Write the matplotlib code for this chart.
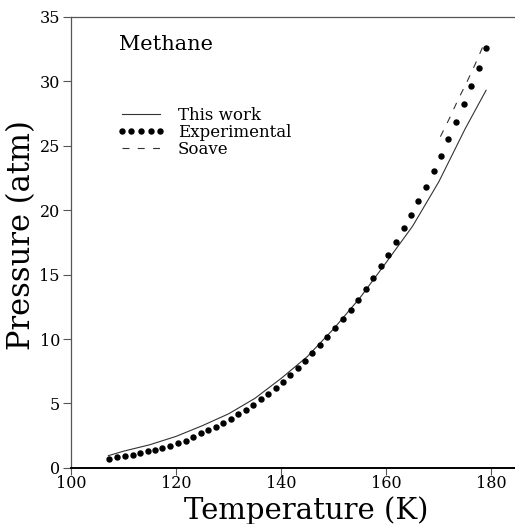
import numpy as np
from matplotlib import pyplot as plt

plt.rcParams['font.family'] = 'DejaVu Serif'
plt.rcParams['lines.scale_dashes'] = False

# experimental vapour pressure points
T_exp = [107.3, 108.7, 110.3, 111.7, 113.1, 114.6, 116.0, 117.4, 118.8, 120.3,
         121.8, 123.2, 124.7, 126.1, 127.6, 128.9, 130.4, 131.8, 133.3, 134.6,
         136.1, 137.5, 139.0, 140.3, 141.6, 143.1, 144.5, 145.9, 147.4, 148.8,
         150.3, 151.7, 153.2, 154.6, 156.1, 157.5, 158.9, 160.3, 161.8, 163.3,
         164.7, 166.1, 167.6, 169.0, 170.4, 171.8, 173.3, 174.7, 176.1, 177.6,
         179.0]
P_exp = [0.70, 0.83, 0.95, 1.03, 1.14, 1.30, 1.40, 1.53, 1.71, 1.92,
         2.09, 2.37, 2.69, 2.95, 3.20, 3.51, 3.80, 4.17, 4.52, 4.91,
         5.33, 5.74, 6.21, 6.70, 7.21, 7.73, 8.32, 8.90, 9.53, 10.14,
         10.84, 11.55, 12.28, 13.05, 13.89, 14.77, 15.65, 16.55, 17.53, 18.6,
         19.6, 20.7, 21.8, 23.0, 24.2, 25.5, 26.8, 28.2, 29.6, 31.0,
         32.6]

# this work
T_model = [107.1, 110, 115, 120, 125, 130, 135, 140, 145, 150, 155, 160, 165, 170, 175, 179.0]
P_model = [0.95, 1.30, 1.80, 2.45, 3.28, 4.20, 5.40, 6.95, 8.65, 10.80, 13.20, 15.95,
           18.75, 22.2, 26.3, 29.3]

# Soave
T_soave = [170.3, 172.0, 173.7, 175.3, 176.9, 178.5]
P_soave = [25.7, 27.1, 28.6, 29.9, 31.3, 32.8]

fig = plt.figure(figsize=(5.15, 5.24), dpi=100)
ax = fig.add_axes([0.138, 0.107, 0.862, 0.861])

ax.plot(T_model, P_model, color='#333333', lw=0.8, label='This work')
ax.plot(T_exp, P_exp, 'o', color='black', ms=3.6, label='Experimental')
ax.plot(T_soave, P_soave, color='#333333', lw=0.8, dashes=(5, 6), label='Soave')

ax.set_xlim(100, 184.5)
ax.set_ylim(0, 35)
ax.set_xticks([100, 120, 140, 160, 180])
ax.set_yticks([0, 5, 10, 15, 20, 25, 30, 35])

ax.spines['right'].set_visible(False)
ax.spines['top'].set_color('#555555')
ax.spines['top'].set_linewidth(0.9)
ax.spines['left'].set_color('#555555')
ax.spines['left'].set_linewidth(0.9)
ax.spines['bottom'].set_linewidth(1.4)
ax.tick_params(direction='out', length=6, width=0.8, color='#555555',
               labelsize=11.5, pad=2)
ax.tick_params(axis='x', length=5, pad=0)

ax.set_xlabel('Temperature (K)', fontsize=21)
ax.set_ylabel('Pressure (atm)', fontsize=22)
ax.xaxis.set_label_coords(0.53, -0.063)
ax.yaxis.set_label_coords(-0.077, 0.517)

ax.text(0.108, 0.938, 'Methane', transform=ax.transAxes,
        fontsize=15, ha='left', va='center')

ax.legend(loc='upper left', bbox_to_anchor=(0.103, 0.80), frameon=False,
          fontsize=12, numpoints=5, handlelength=2.9, handletextpad=0.75,
          labelspacing=0.0, borderpad=0, borderaxespad=0)

plt.savefig('out.png')
